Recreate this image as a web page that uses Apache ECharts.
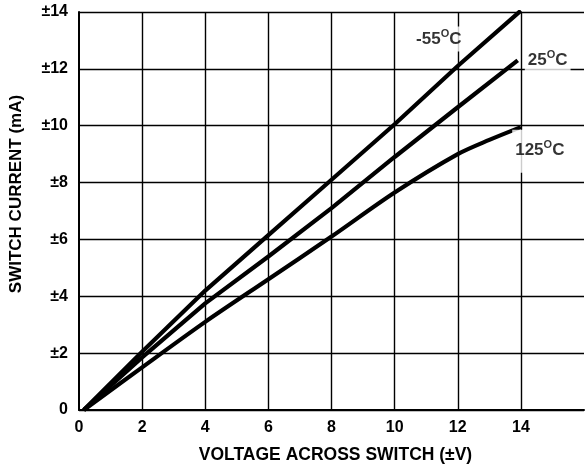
<!DOCTYPE html>
<html><head><meta charset="utf-8">
<script src="https://cdn.jsdelivr.net/npm/echarts@6/dist/echarts.min.js"></script>
<style>html,body{margin:0;padding:0;background:#fff}#c{width:587px;height:470px}</style>
</head><body><div id="c"></div>
<script>
var xTicks = [0, 2, 4, 6, 8, 10, 12, 14];
var yTicks = [0, 2, 4, 6, 8, 10, 12, 14];
var voltage = [0.15, 2, 4, 6, 8, 10, 12, 14];
var curM55 = [0, 2.05, 4.2, 6.15, 8.1, 10.05, 12.1, 14.05];
var voltage25 = [0.15, 2, 4, 6, 8, 10, 12, 13.9];
var cur25 = [0, 1.85, 3.75, 5.4, 7.1, 8.9, 10.65, 12.3];
var voltage125 = [0.15, 2, 4, 6, 8, 10, 12, 13, 14];
var cur125 = [0, 1.5, 3.1, 4.6, 6.1, 7.65, 9.0, 9.5, 9.95];
var tempLabels = ['-55', '25', '125'];
var labelPos = [[11.4, 13.05], [14.85, 12.3], [14.6, 9.1]];

function pairs(xs, ys) { return xs.map(function (x, i) { return [x, ys[i]]; }); }
var font = 'Liberation Sans, Arial, sans-serif';
var labelPads = [[2, 2, 2, 2], [12, 3, 12, 3], [10, 3, 12, 3]];
var chart = echarts.init(document.getElementById('c'));
var lineBase = { type: 'line', symbol: 'none', smooth: 0.3, lineStyle: { color: '#000', width: 4.2 }, z: 3 };
chart.setOption({
  animation: false,
  grid: { left: 79, right: 2, top: 12, bottom: 60 },
  xAxis: {
    type: 'value', min: 0, max: 16, interval: 2,
    axisLine: { lineStyle: { color: '#000', width: 2 } },
    axisTick: { show: false },
    splitLine: { show: false },
    axisLabel: { color: '#000', fontWeight: 'bold', fontSize: 16, fontFamily: font, margin: 10,
      formatter: function (v) { return v > 14 ? '' : String(v); } },
    name: 'VOLTAGE ACROSS SWITCH (±V)', nameLocation: 'middle', nameGap: 36,
    nameTextStyle: { color: '#000', fontWeight: 'bold', fontSize: 17.5, fontFamily: font, padding: [0, 0, 0, 8] }
  },
  yAxis: {
    type: 'value', min: 0, max: 14, interval: 2,
    axisLine: { show: true, lineStyle: { color: '#000', width: 2 } },
    axisTick: { show: false },
    splitLine: { lineStyle: { color: '#000', width: 1.4 } },
    axisLabel: { color: '#000', fontWeight: 'bold', fontSize: 16, fontFamily: font, margin: 11,
      formatter: function (v) { return v === 0 ? '0' : '±' + v; } },
    name: 'SWITCH CURRENT (mA)', nameLocation: 'middle', nameGap: 54,
    nameTextStyle: { color: '#000', fontWeight: 'bold', fontSize: 17, fontFamily: font, padding: [0, 0, 0, 34] }
  },
  series: [
    { type: 'line', data: [], z: 1, silent: true,
      markLine: { silent: true, symbol: 'none', label: { show: false },
        lineStyle: { color: '#000', width: 1.4, type: 'solid' },
        data: xTicks.filter(function (v) { return v > 0; }).map(function (v) { return { xAxis: v }; }) } },
    Object.assign({}, lineBase, { name: '-55', smooth: false, data: pairs(voltage, curM55) }),
    Object.assign({}, lineBase, { name: '25', smooth: false, data: pairs(voltage25, cur25) }),
    Object.assign({}, lineBase, { name: '125', data: pairs(voltage125, cur125) }),
    { type: 'scatter', symbolSize: 0, z: 5, silent: true,
      data: labelPos.map(function (p, i) {
        return { value: p, name: tempLabels[i], label: { padding: labelPads[i] } };
      }),
      label: { show: true, position: 'inside', backgroundColor: '#fff',
        formatter: function (p) { return p.name + '{s|O}C'; },
        color: '#000', fontWeight: 'bold', fontSize: 17, fontFamily: font,
        rich: { s: { fontSize: 11, fontWeight: 'bold', fontFamily: font, color: '#000', padding: [0, 0, 10, 0] } } } }
  ]
});
</script></body></html>
